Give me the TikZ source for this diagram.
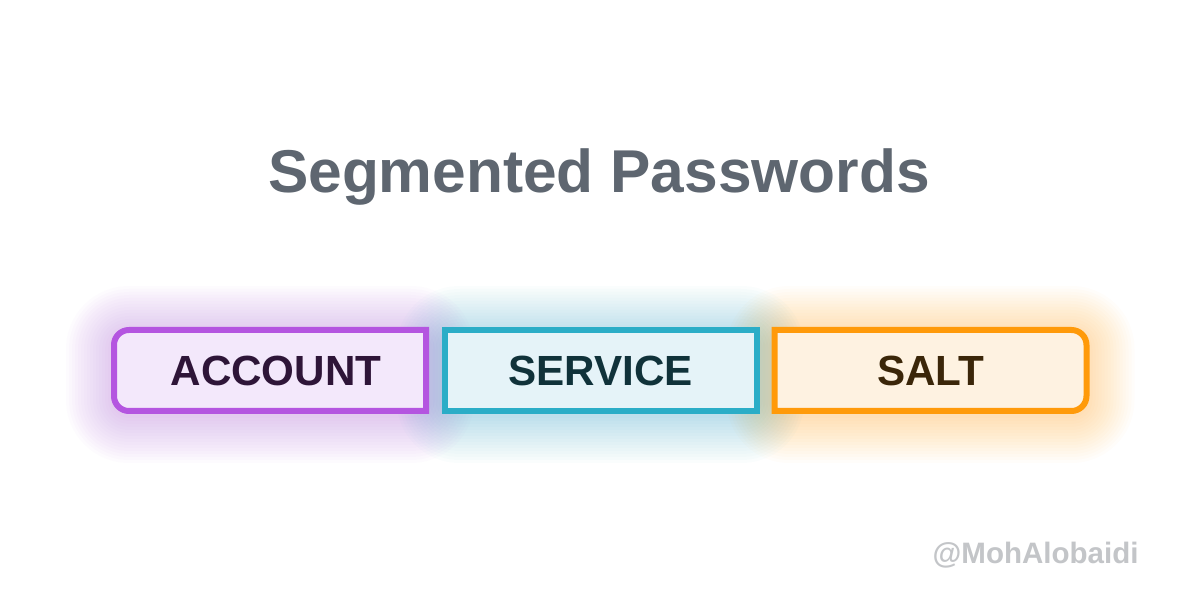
\documentclass[tikz,border=0pt]{standalone}
\usepackage{fontspec}
\setmainfont{Liberation Sans}
\usetikzlibrary{positioning}
\pgfdeclarelayer{background}
\pgfsetlayers{background,main}
\definecolor{titlegray}{HTML}{5E6670}
\definecolor{markgray}{HTML}{C3C5C8}
\definecolor{accline}{HTML}{B455E0}
\definecolor{accfill}{HTML}{F3E8FB}
\definecolor{acctext}{HTML}{2E1538}
\definecolor{servline}{HTML}{2BADC7}
\definecolor{servfill}{HTML}{E5F3F8}
\definecolor{servtext}{HTML}{10323A}
\definecolor{saltline}{HTML}{FF9A0A}
\definecolor{saltfill}{HTML}{FEF2E1}
\definecolor{salttext}{HTML}{3B2609}
\begin{document}
\begin{tikzpicture}[seg node/.style={minimum width=3.12cm,minimum height=0.81cm,inner sep=0pt,outer sep=0pt,font=\fontsize{12}{14}\selectfont\bfseries},
    seg line/.style={line width=0.06cm}, glow/.style={opacity=0.018}]
  \useasboundingbox (0,0) rectangle (12,6);
  \node[anchor=base,text=titlegray,font=\fontsize{17.2}{21}\selectfont\bfseries] (title) at (5.99,4.07) {Segmented Passwords};
  \node[seg node,text=acctext] (account) at (2.70,2.295) {\hspace*{0.12cm}ACCOUNT};
  \node[seg node,text=servtext,right=0.185cm of account] (service) {SERVICE};
  \node[seg node,text=salttext,right=0.18cm of service] (salt) {SALT};
  \node[anchor=base east,text=markgray,font=\fontsize{8.4}{10}\selectfont\bfseries] (mark) at (11.51,0.37) {@MohAlobaidi};
  \begin{pgfonlayer}{background}
    \fill[white] (0,0) rectangle (12,6);
    % soft glow round the boxes
    \foreach \g [evaluate=\g as \r using 0.15+0.03*\g] in {1,...,16} {
      \fill[glow,accline,rounded corners=\r cm] ([shift={(-0.03*\g,0.03*\g-0.04)}]account.north west) rectangle ([shift={(0.03*\g,-0.03*\g-0.04)}]account.south east);
      \fill[glow,servline,rounded corners=\r cm] ([shift={(-0.03*\g,0.03*\g-0.04)}]service.north west) rectangle ([shift={(0.03*\g,-0.03*\g-0.04)}]service.south east);
      \fill[glow,saltline,rounded corners=\r cm] ([shift={(-0.03*\g,0.03*\g-0.04)}]salt.north west) rectangle ([shift={(0.03*\g,-0.03*\g-0.04)}]salt.south east);
    }
    \draw[seg line,draw=accline,fill=accfill] (account.north east) -- ([xshift=0.15cm]account.north west) arc[start angle=90,end angle=180,radius=0.15cm]
      -- ([yshift=0.15cm]account.south west) arc[start angle=180,end angle=270,radius=0.15cm] -- (account.south east) -- cycle;
    \draw[seg line,draw=servline,fill=servfill] (service.north west) rectangle (service.south east);
    \draw[seg line,draw=saltline,fill=saltfill] (salt.north west) -- ([xshift=-0.15cm]salt.north east) arc[start angle=90,end angle=0,radius=0.15cm]
      -- ([yshift=0.15cm]salt.south east) arc[start angle=0,end angle=-90,radius=0.15cm] -- (salt.south west) -- cycle;
  \end{pgfonlayer}
\end{tikzpicture}
\end{document}
